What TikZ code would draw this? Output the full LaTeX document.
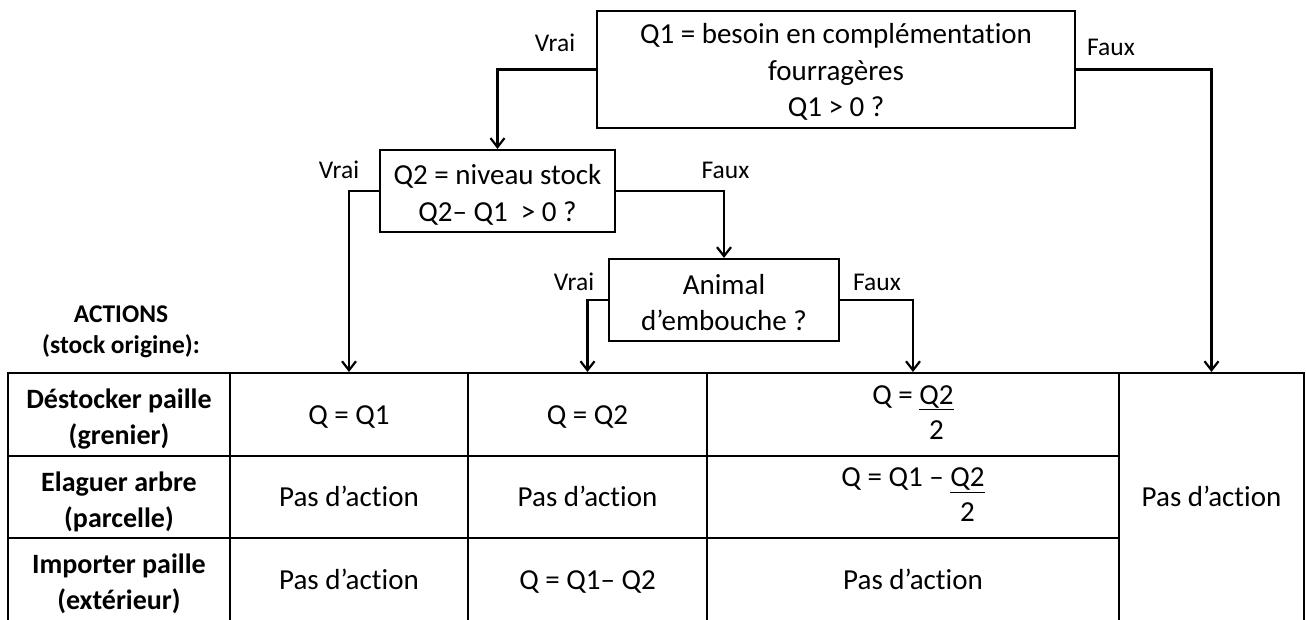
\documentclass[tikz,border=0pt]{standalone}
\usepackage{fontspec}
\setmainfont{Carlito}[Ligatures=NoCommon]
\usetikzlibrary{arrows.meta}
\newcommand{\hstrut}{\rule{0pt}{29pt}}
\begin{document}
\begin{tikzpicture}[x=1pt,y=-1pt,
  box/.style={draw, line width=2.2pt, inner sep=0pt, align=center, font=\fontsize{29}{36.5}\selectfont},
  cell/.style={draw, line width=2pt, inner sep=0pt, align=center, font=\fontsize{29}{35}\selectfont,
    execute at begin node={\rule[-5pt]{0pt}{29pt}}},
  hdr/.style={draw, line width=2pt, inner sep=0pt, align=center, font=\fontsize{28}{36}\selectfont\bfseries},
  lbl/.style={inner sep=0pt, font=\fontsize{25.5}{30}\selectfont},
  actlbl/.style={inner sep=0pt, align=center, font=\fontsize{25.5}{31}\selectfont\bfseries},
  arr/.style={line width=2.2pt, -{Straight Barb[length=9pt,width=14pt]}},
]
\useasboundingbox (0,0) rectangle (1306,619);

% decision boxes
\node[box, minimum width=478pt, minimum height=117pt] (q1) at (836,69.5)
  {\strut Q1 = besoin en complémentation\\fourragères\\Q1 > 0 ?};
\node[box, minimum width=235pt, minimum height=82pt] (q2) at (497.5,191)
  {\rule{0pt}{28pt}Q2 = niveau stock\\Q2– Q1 \ > 0 ?};
\node[box, minimum width=230pt, minimum height=82pt] (an) at (724,300)
  {\strut Animal\\d’embouche ?};

% header label
\node[actlbl] (act) at (121,332) {ACTIONS\\(stock origine):};

% table column 1
\node[hdr, minimum width=222pt, minimum height=83pt] (h1) at (119,414.5) {\hstrut Déstocker paille\\(grenier)};
\node[hdr, minimum width=222pt, minimum height=82pt] (h2) at (119,497) {\hstrut Elaguer arbre\\(parcelle)};
\node[hdr, minimum width=222pt, minimum height=83pt] (h3) at (119,579.5) {\hstrut Importer paille\\(extérieur)};
% column 2
\node[cell, minimum width=238pt, minimum height=83pt] (b1) at (349,414.5) {Q = Q1};
\node[cell, minimum width=238pt, minimum height=82pt] (b2) at (349,497) {Pas d’action};
\node[cell, minimum width=238pt, minimum height=83pt] (b3) at (349,579.5) {Pas d’action};
% column 3
\node[cell, minimum width=239pt, minimum height=83pt] (c1) at (587.5,414.5) {Q = Q2};
\node[cell, minimum width=239pt, minimum height=82pt] (c2) at (587.5,497) {Pas d’action};
\node[cell, minimum width=239pt, minimum height=83pt] (c3) at (587.5,579.5) {Q = Q1– Q2};
% column 4
\node[cell, minimum width=412pt, minimum height=83pt] (d1) at (913,414.5)
  {Q = \begin{tabular}[t]{@{}c@{}}\underline{Q2}\\2\end{tabular}};
\node[cell, minimum width=412pt, minimum height=82pt] (d2) at (913,497)
  {Q = Q1 – \begin{tabular}[t]{@{}c@{}}\underline{Q2}\\2\end{tabular}};
\node[cell, minimum width=412pt, minimum height=83pt] (d3) at (913,579.5) {Pas d’action};
% column 5
\node[cell, minimum width=185pt, minimum height=248pt] (e1) at (1211.5,497) {Pas d’action};

% connectors
\draw[arr] (q1.west) -| (q2.north);
\draw[arr] (q1.east) -| (e1.north);
\draw[arr] (q2.west) -| (b1.north);
\draw[arr] (q2.east) -| (an.north);
\draw[arr] (an.west) -| (c1.north);
\draw[arr] (an.east) -| (d1.north);

% branch labels
\node[lbl] (v1) at (555,43) {Vrai};
\node[lbl] (f1) at (1111,47) {Faux};
\node[lbl] (v2) at (339,170) {Vrai};
\node[lbl] (f2) at (725.5,170) {Faux};
\node[lbl] (v3) at (574,282) {Vrai};
\node[lbl] (f3) at (877,282) {Faux};
\end{tikzpicture}
\end{document}
